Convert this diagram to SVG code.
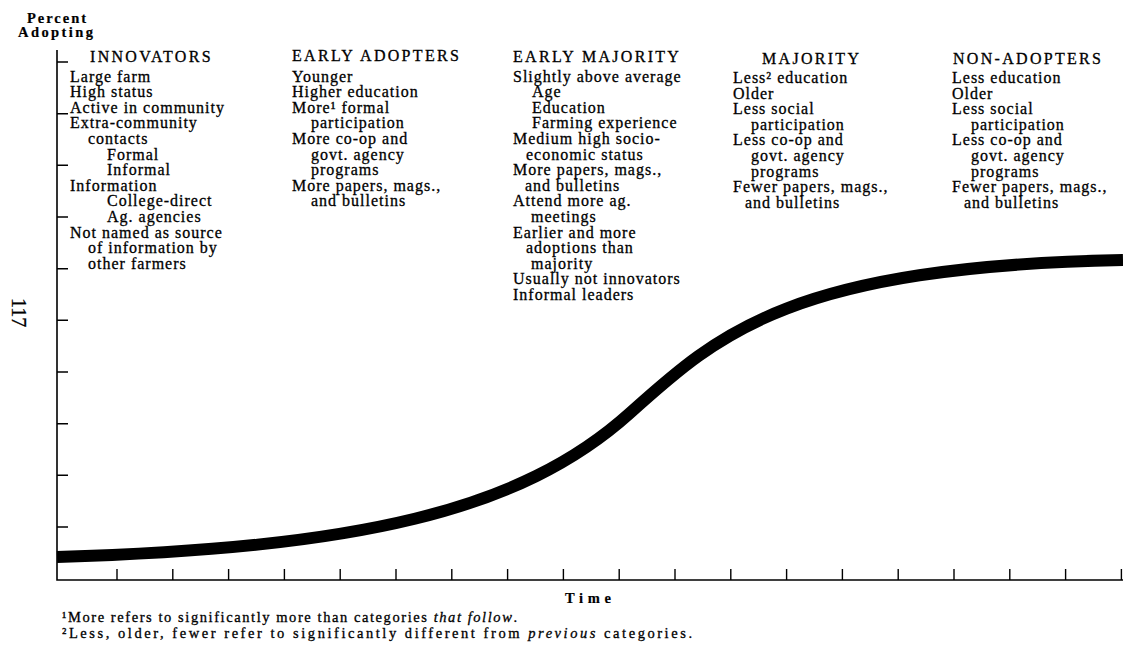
<svg xmlns="http://www.w3.org/2000/svg" width="1123" height="646" viewBox="0 0 1123 646">
  <style>
    text { font-family: "Liberation Serif", "Times New Roman", serif; fill: #000; stroke: #000; stroke-width: 0.3px; }
    .item { font-size: 16px; letter-spacing: 1px; }
    .head { font-size: 16px; letter-spacing: 2.3px; }
    .axis-title { font-size: 14.5px; font-weight: bold; stroke-width: 0.2px; }
    .note { font-size: 14.5px; }
    .axis { stroke: #000; stroke-width: 1.6; fill: none; }
    .tick { stroke: #000; stroke-width: 1.4; }
    .curve { stroke: #000; stroke-width: 12; fill: none; stroke-linecap: butt; stroke-linejoin: round; }
  </style>

  <!-- axis titles -->
  <g id="y-title">
    <text class="axis-title" x="27" y="23" textLength="59" lengthAdjust="spacing">Percent</text>
    <text class="axis-title" x="18" y="37" textLength="75" lengthAdjust="spacing">Adopting</text>
  </g>
  <g id="x-title">
    <text class="axis-title" x="565" y="603" font-size="17" textLength="46" lengthAdjust="spacing">Time</text>
  </g>
  <g id="page-number">
    <text x="12" y="298" font-size="20" stroke-width="0" transform="rotate(90 12 298)">117</text>
  </g>

  <!-- axes with tick marks -->
  <g id="axes">
    <path class="axis" d="M57,50 V580 H1123"/>
    <path class="tick" d="M57,62 h11 M57,113.7 h11 M57,165.3 h11 M57,217 h11 M57,268.7 h11 M57,320.3 h11 M57,372 h11 M57,423.7 h11 M57,475.3 h11 M57,527 h11"/>
    <path class="tick" d="M117,580 v-11 M172.8,580 v-11 M228.6,580 v-11 M284.4,580 v-11 M340.2,580 v-11 M396,580 v-11 M451.8,580 v-11 M507.6,580 v-11 M563.4,580 v-11 M619.2,580 v-11 M675,580 v-11 M730.8,580 v-11 M786.6,580 v-11 M842.4,580 v-11 M898.2,580 v-11 M954,580 v-11 M1009.8,580 v-11 M1065.6,580 v-11 M1121.4,580 v-11"/>
  </g>

  <!-- adoption curve: two cubic segments joined at the inflection point -->
  <g id="connectors">
    <path class="curve" d="M57,557 C357,548 520,512 630,413 C720,332 793,266.6 1123,260"/>
  </g>

  <!-- adopter categories -->
  <g id="innovators">
    <text class="head" x="90" y="61.5">INNOVATORS</text>
    <text class="item" x="70" y="81.5">Large farm</text>
    <text class="item" x="70" y="97.1">High status</text>
    <text class="item" x="70" y="112.7">Active in community</text>
    <text class="item" x="70" y="128.3">Extra-community</text>
    <text class="item" x="88" y="143.9">contacts</text>
    <text class="item" x="107" y="159.5">Formal</text>
    <text class="item" x="107" y="175.1">Informal</text>
    <text class="item" x="70" y="190.7">Information</text>
    <text class="item" x="107" y="206.3">College-direct</text>
    <text class="item" x="107" y="221.9">Ag. agencies</text>
    <text class="item" x="70" y="237.5">Not named as source</text>
    <text class="item" x="88" y="253.1">of information by</text>
    <text class="item" x="88" y="268.7">other farmers</text>
  </g>

  <g id="early-adopters">
    <text class="head" x="292" y="61">EARLY ADOPTERS</text>
    <text class="item" x="292" y="81.5">Younger</text>
    <text class="item" x="292" y="97.1">Higher education</text>
    <text class="item" x="292" y="112.7">More¹ formal</text>
    <text class="item" x="311" y="128.3">participation</text>
    <text class="item" x="292" y="143.9">More co-op and</text>
    <text class="item" x="311" y="159.5">govt. agency</text>
    <text class="item" x="311" y="175.1">programs</text>
    <text class="item" x="292" y="190.7">More papers, mags.,</text>
    <text class="item" x="311" y="206.3">and bulletins</text>
  </g>

  <g id="early-majority">
    <text class="head" x="513" y="61.5">EARLY MAJORITY</text>
    <text class="item" x="513" y="81.5">Slightly above average</text>
    <text class="item" x="532" y="97.1">Age</text>
    <text class="item" x="532" y="112.7">Education</text>
    <text class="item" x="532" y="128.3">Farming experience</text>
    <text class="item" x="513" y="143.9">Medium high socio-</text>
    <text class="item" x="526" y="159.5">economic status</text>
    <text class="item" x="513" y="175.1">More papers, mags.,</text>
    <text class="item" x="525" y="190.7">and bulletins</text>
    <text class="item" x="513" y="206.3">Attend more ag.</text>
    <text class="item" x="531" y="221.9">meetings</text>
    <text class="item" x="513" y="237.5">Earlier and more</text>
    <text class="item" x="526" y="253.1">adoptions than</text>
    <text class="item" x="531" y="268.7">majority</text>
    <text class="item" x="513" y="284.3">Usually not innovators</text>
    <text class="item" x="513" y="299.9">Informal leaders</text>
  </g>

  <g id="majority">
    <text class="head" x="762" y="63.5">MAJORITY</text>
    <text class="item" x="733" y="83">Less² education</text>
    <text class="item" x="733" y="98.6">Older</text>
    <text class="item" x="733" y="114.2">Less social</text>
    <text class="item" x="751" y="129.8">participation</text>
    <text class="item" x="733" y="145.4">Less co-op and</text>
    <text class="item" x="751" y="161">govt. agency</text>
    <text class="item" x="751" y="176.6">programs</text>
    <text class="item" x="733" y="192.2">Fewer papers, mags.,</text>
    <text class="item" x="745" y="207.8">and bulletins</text>
  </g>

  <g id="non-adopters">
    <text class="head" x="953" y="63.5">NON-ADOPTERS</text>
    <text class="item" x="952" y="83">Less education</text>
    <text class="item" x="952" y="98.6">Older</text>
    <text class="item" x="952" y="114.2">Less social</text>
    <text class="item" x="971" y="129.8">participation</text>
    <text class="item" x="952" y="145.4">Less co-op and</text>
    <text class="item" x="971" y="161">govt. agency</text>
    <text class="item" x="971" y="176.6">programs</text>
    <text class="item" x="952" y="192.2">Fewer papers, mags.,</text>
    <text class="item" x="964" y="207.8">and bulletins</text>
  </g>

  <!-- footnotes -->
  <g id="footnotes">
    <text class="note" x="62" y="622" textLength="455" lengthAdjust="spacing">¹More refers to significantly more than categories <tspan font-style="italic">that follow</tspan>.</text>
    <text class="note" x="62" y="638" textLength="630" lengthAdjust="spacing">²Less, older, fewer refer to significantly different from <tspan font-style="italic">previous</tspan> categories.</text>
  </g>
</svg>
